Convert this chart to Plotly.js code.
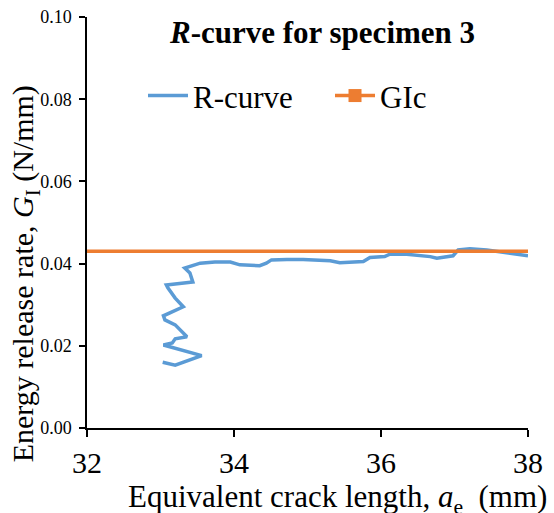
<!DOCTYPE html>
<html>
<head>
<meta charset="utf-8">
<script src="https://cdn.plot.ly/plotly-3.0.1.min.js"></script>
<style>
.modebar-container,.modebar{display:none !important;}
#chart svg text, #chart svg tspan { font-family: 'Liberation Serif', 'Times New Roman', serif !important; }
</style>
</head>
<body style="margin:0">
<div id="chart" style="width:554px;height:513px"></div>
<script>
// R-curve data (equivalent crack length in mm, energy release rate in N/mm)
var crackLength = [33.03, 33.20, 33.56, 33.27, 33.04, 33.16, 33.20, 33.36, 33.20, 33.06, 33.04, 33.31, 33.20, 33.10, 33.08, 33.44, 33.40, 33.33, 33.54, 33.74, 33.95, 34.08, 34.35, 34.44, 34.51, 34.72, 34.94, 35.31, 35.44, 35.76, 35.85, 36.05, 36.12, 36.35, 36.67, 36.76, 36.98, 37.05, 37.21, 37.44, 37.66, 38.00];
var energyRate = [0.0160, 0.0153, 0.0176, 0.0190, 0.0202, 0.0207, 0.0217, 0.0222, 0.0251, 0.0263, 0.0273, 0.0295, 0.0316, 0.0341, 0.0348, 0.0355, 0.0377, 0.0389, 0.0401, 0.0404, 0.0404, 0.0397, 0.0395, 0.0401, 0.0409, 0.0410, 0.0410, 0.0407, 0.0402, 0.0405, 0.0415, 0.0417, 0.0423, 0.0423, 0.0417, 0.0413, 0.0419, 0.0433, 0.0436, 0.0433, 0.0427, 0.0419];
// GIc line
var gicX = [32, 38];
var gicY = [0.043, 0.043];
// Axis ticks
var xTicks = [32, 34, 36, 38];
var yTicks = [0.00, 0.02, 0.04, 0.06, 0.08, 0.10];

var F = 'Liberation Serif';
var BLUE = '#5B9BD5', ORANGE = '#ED7D31';

var traces = [
  {x: crackLength, y: energyRate, type: 'scatter', mode: 'lines', name: 'R-curve',
   line: {color: BLUE, width: 3.5}},
  {x: gicX, y: gicY, type: 'scatter', mode: 'lines', name: 'GIc', showlegend: false,
   line: {color: ORANGE, width: 3.5}},
  {x: [null], y: [null], type: 'scatter', mode: 'lines+markers', name: 'GIc',
   line: {color: ORANGE, width: 3.5}, marker: {color: ORANGE, symbol: 'square', size: 13}}
];

var annotations = [
  {text: '<b><i>R</i>-curve for specimen 3</b>', xref: 'paper', yref: 'paper', x: 0.533, y: 1.0075,
   xanchor: 'center', yanchor: 'top', showarrow: false, borderpad: 0,
   font: {family: F, size: 31, color: 'black'}},
  {text: 'Equivalent crack length, <i>a</i><sub>e</sub>  (mm)', xref: 'paper', yref: 'paper',
   x: 0.567, y: -0.1217, xanchor: 'center', yanchor: 'top', showarrow: false, borderpad: 0,
   font: {family: F, size: 31, color: 'black'}},
  {text: 'Energy release rate, <i>G</i><sub>I</sub> (N/mm)', xref: 'paper', yref: 'paper',
   x: -0.1853, y: 0.3747, xanchor: 'left', yanchor: 'middle', textangle: -90, showarrow: false, borderpad: 0,
   font: {family: F, size: 30, color: 'black'}}
];

var layout = {
  width: 554, height: 513,
  margin: {l: 87, r: 26, t: 17, b: 85},
  showlegend: true,
  legend: {orientation: 'h', x: 0.127, y: 0.808, xanchor: 'left', yanchor: 'middle',
           font: {family: F, size: 31, color: 'black'}, bgcolor: 'rgba(0,0,0,0)',
           itemwidth: 40, entrywidth: 132, entrywidthmode: 'pixels', tracegroupgap: 0},
  xaxis: {range: [32, 38], tickvals: xTicks, ticktext: xTicks.map(String), ticks: 'outside', ticklen: 7,
          tickwidth: 1.5, tickcolor: 'black', showline: true, linecolor: 'black', linewidth: 1.5,
          showgrid: false, zeroline: false, tickfont: {family: F, size: 30, color: 'black'}},
  xaxis2: {range: [32, 38], overlaying: 'x', anchor: 'y', side: 'bottom', tickvals: xTicks,
           ticks: 'inside', ticklen: 7, tickwidth: 1.5, tickcolor: 'black', showticklabels: false,
           showline: false, showgrid: false, zeroline: false},
  yaxis: {range: [0, 0.1], tickvals: yTicks, ticktext: yTicks.map(function(v){return v.toFixed(2);}),
          ticks: 'outside', ticklen: 6, tickwidth: 1.5, tickcolor: 'black', showline: true,
          linecolor: 'black', linewidth: 1.5, showgrid: false, zeroline: false, ticklabelstandoff: 4,
          tickfont: {family: F, size: 18, color: 'black'}},
  yaxis2: {range: [0, 0.1], overlaying: 'y', anchor: 'x', side: 'left', tickvals: yTicks,
           ticks: 'inside', ticklen: 6, tickwidth: 1.5, tickcolor: 'black', showticklabels: false,
           showline: false, showgrid: false, zeroline: false},
  annotations: annotations
};

Plotly.newPlot('chart', traces, layout);
</script>
</body>
</html>
